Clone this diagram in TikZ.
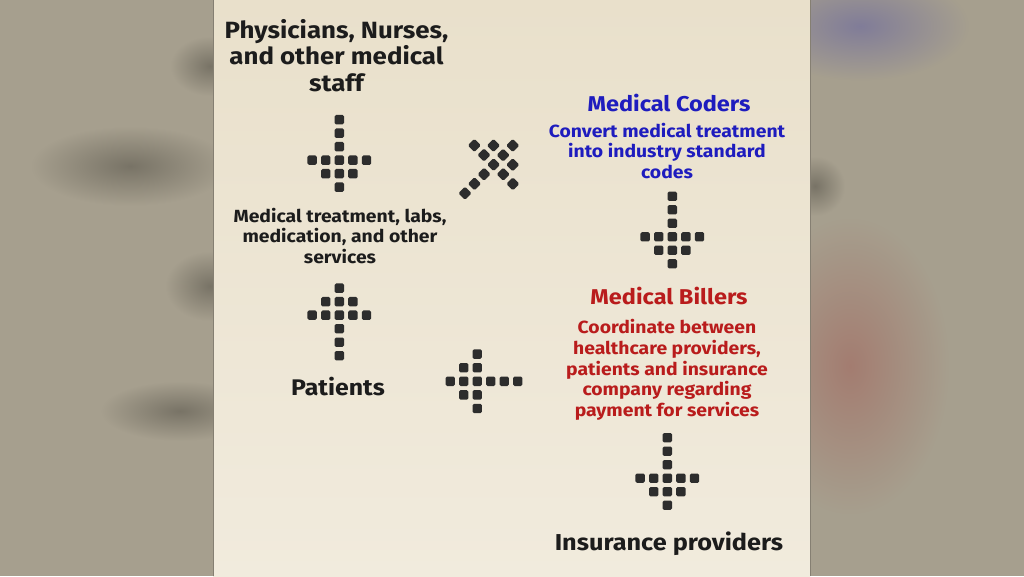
\documentclass[tikz,border=0pt]{standalone}
\usepackage{fontspec}
\setmainfont{Fira Sans}[FakeStretch=1.1]
\usetikzlibrary{calc}
\definecolor{sidebg}{RGB}{166,159,142}
\definecolor{paneltop}{RGB}{233,224,203}
\definecolor{panelbot}{RGB}{241,235,221}
\definecolor{dotcol}{RGB}{45,45,45}
\definecolor{txtblack}{RGB}{28,28,28}
\definecolor{coderblue}{RGB}{30,28,190}
\definecolor{billred}{RGB}{185,28,28}
\definecolor{blobdark}{RGB}{120,115,102}
\definecolor{blobblue}{RGB}{128,124,152}
\definecolor{blobred}{RGB}{163,124,112}
\tikzset{
  dotsq/.style={fill=dotcol, rounded corners=1.5pt},
  pics/dotarrow/.style={code={
    \foreach \px/\py in {0/0,0/-1,0/-2,-2/-3,-1/-3,0/-3,1/-3,2/-3,-1/-4,0/-4,1/-4,0/-5}
      {\fill[dotsq] ($(\px*13.6,\py*13.5)+(-4.7,-4.7)$) rectangle ($(\px*13.6,\py*13.5)+(4.7,4.7)$);}
  }},
  bigtxt/.style={align=center, text=txtblack, font=\fontsize{23.5}{26.5}\selectfont\bfseries, inner sep=0pt},
  headtxt/.style={align=center, font=\fontsize{21.4}{26}\selectfont\bfseries, inner sep=0pt},
  smalltxt/.style={align=center, text=txtblack, font=\fontsize{17.6}{20.6}\selectfont\bfseries, inner sep=0pt},
}
\begin{document}
\begin{tikzpicture}[x=1pt,y=1pt]
\useasboundingbox (0,0) rectangle (1024,576);
% side background
\fill[sidebg] (0,0) rectangle (1024,576);
\shade[inner color=blobdark, outer color=sidebg] (130,410) ellipse (100 and 40);
\shade[inner color=blobdark, outer color=sidebg] (210,510) ellipse (40 and 30);
\shade[inner color=blobdark, outer color=sidebg] (210,290) ellipse (45 and 35);
\shade[inner color=blobdark, outer color=sidebg] (180,165) ellipse (80 and 30);
\shade[inner color=blobblue, outer color=sidebg] (860,550) ellipse (110 and 55);
\shade[inner color=blobdark, outer color=sidebg] (815,390) ellipse (30 and 30);
\shade[inner color=blobred, outer color=sidebg] (850,210) ellipse (100 and 150);
% panel
\shade[top color=paneltop, bottom color=panelbot] (213,0) rectangle (810,576);
\draw[line width=0.8pt, color=sidebg!80!black] (213,0) -- (213,576);
\draw[line width=0.8pt, color=sidebg!80!black] (810,0) -- (810,576);

% texts
\node[bigtxt] (phys) at (336.5,520.5) {Physicians, Nurses,\\and other medical\\staff};
\node[headtxt, text=coderblue] (coders) at (669,473) {Medical Coders};
\node[smalltxt, text=coderblue] (coderdesc) at (667,425) {Convert medical treatment\\into industry standard\\codes};
\node[smalltxt] (treat) at (340,340) {Medical treatment, labs,\\medication, and other\\services};
\node[bigtxt, font=\fontsize{22.6}{26}\selectfont\bfseries] (patients) at (338,189) {Patients};
\node[headtxt, text=billred] (billers) at (669,280) {Medical Billers};
\node[smalltxt, text=billred] (billdesc) at (667,206) {Coordinate between\\healthcare providers,\\patients and insurance\\company regarding\\payment for services};
\node[bigtxt, font=\fontsize{23}{26}\selectfont\bfseries] (insurance) at (669,32) {Insurance providers};

% dotted arrows
\coordinate (a1) at (339.3,456.3);
\coordinate (a2) at (465,382.7);
\coordinate (a3) at (672.3,379.7);
\coordinate (a4) at (339.3,220.3);
\coordinate (a5) at (517.7,194.7);
\coordinate (a6) at (667.3,138.3);
\pic at (a1) {dotarrow};
\pic[rotate=135] at (a2) {dotarrow};
\pic at (a3) {dotarrow};
\pic[rotate=180] at (a4) {dotarrow};
\pic[rotate=-90] at (a5) {dotarrow};
\pic at (a6) {dotarrow};
\end{tikzpicture}
\end{document}
